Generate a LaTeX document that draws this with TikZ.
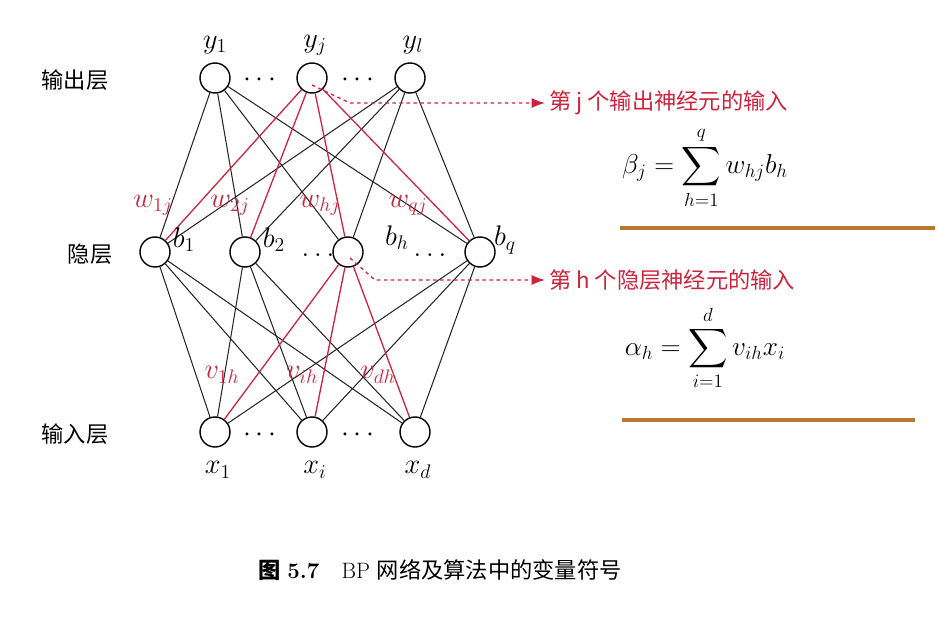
\documentclass[tikz,border=0pt]{standalone}
\usepackage{amsmath}
\usepackage{fontspec}
\newfontfamily\cjk{Noto Sans CJK SC}
\usetikzlibrary{arrows.meta}
\definecolor{rd}{RGB}{205,35,60}
\definecolor{br}{RGB}{185,120,50}
\newcommand{\fsA}{\fontsize{17}{20}\selectfont}
\newcommand{\fsB}{\fontsize{19}{23}\selectfont}
\begin{document}
\begin{tikzpicture}[x=0.03cm,y=-0.03cm,
  neu/.style={circle,draw,line width=1.2pt,minimum size=0.9cm,inner sep=0pt},
  lk/.style={draw=black!85,line width=0.9pt},
  rk/.style={draw=rd,line width=1.1pt},
  lab/.style={font=\fsA,scale=1.4,transform shape},
  wl/.style={text=rd,font=\fsA,inner sep=0.5pt,scale=1.4,transform shape},
  fm/.style={font=\fsA,scale=1.35,transform shape},
  ttl/.style={font=\cjk\fsB}]
\useasboundingbox (0,0) rectangle (937,622);
\node[neu] (y1) at (215,78) {};
\node[neu] (yj) at (312,78) {};
\node[neu] (yl) at (410,78) {};
\node[neu] (b1) at (155,252) {};
\node[neu] (b2) at (245,252) {};
\node[neu] (bh) at (348,252) {};
\node[neu] (bq) at (480,252) {};
\node[neu] (x1) at (215,432) {};
\node[neu] (xi) at (312,432) {};
\node[neu] (xd) at (415,432) {};
\foreach \o in {y1,yl}{\foreach \h in {b1,b2,bh,bq}{\draw[lk] (\o)--(\h);}}
\foreach \i in {x1,xi,xd}{\foreach \h in {b1,b2,bq}{\draw[lk] (\i)--(\h);}}
\foreach \h in {b1,b2,bh,bq}{\draw[rk] (yj)--(\h);}
\foreach \i in {x1,xi,xd}{\draw[rk] (bh)--(\i);}
\node[lab] (ly1) at (215,45) {$y_1$};
\node[lab] (lyj) at (315,45) {$y_j$};
\node[lab] (lyl) at (413,45) {$y_l$};
\node[lab] (lb1) at (184,240) {$b_1$};
\node[lab] (lb2) at (274,240) {$b_2$};
\node[lab] (lbh) at (397,238) {$b_h$};
\node[lab] (lbq) at (505,240) {$b_q$};
\node[lab] (lx1) at (218,470) {$x_1$};
\node[lab] (lxi) at (315,470) {$x_i$};
\node[lab] (lxd) at (418,470) {$x_d$};
\node[lab] (d1) at (262,80) {$\cdots$};
\node[lab] (d2) at (360,80) {$\cdots$};
\node[lab] (d3) at (318,255) {$\ldots$};
\node[lab] (d4) at (430,255) {$\ldots$};
\node[lab] (d5) at (262,435) {$\cdots$};
\node[lab] (d6) at (360,435) {$\cdots$};
\node[wl] (w1) at (153,205) {$w_{1j}$};
\node[wl] (w2) at (230,205) {$w_{2j}$};
\node[wl] (w3) at (320,205) {$w_{hj}$};
\node[wl] (w4) at (408,205) {$w_{qj}$};
\node[wl] (v1) at (222,375) {$v_{1h}$};
\node[wl] (v2) at (302,375) {$v_{ih}$};
\node[wl] (v3) at (378,375) {$v_{dh}$};
\node[ttl] (t1) at (75,80) {输出层};
\node[ttl] (t2) at (90,254) {隐层};
\node[ttl] (t3) at (75,434) {输入层};
\coordinate (s1) at (312,85);
\coordinate (s2) at (350,258);
\node[text=rd,font=\cjk\fsB,anchor=west] (n1) at (545,103) {第 \textit{j} 个输出神经元的输入};
\node[text=rd,font=\cjk\fsB,anchor=west] (n2) at (545,280) {第 \textit{h} 个隐层神经元的输入};
\draw[rd,line width=1.1pt,dashed,-{Latex[length=4mm,width=3mm]}] (s1) -- (350,103) -- (n1.west);
\draw[rd,line width=1.1pt,dashed,-{Latex[length=4mm,width=3mm]}] (s2) -- (375,280) -- (n2.west);
\node[fm] (f1) at (705,168) {$\beta_j=\displaystyle\sum_{h=1}^{q} w_{hj}b_h$};
\node[fm] (f2) at (705,348) {$\alpha_h=\displaystyle\sum_{i=1}^{d} v_{ih}x_i$};
\draw[br,line width=3.5pt] (620,228) -- (935,228);
\draw[br,line width=3.5pt] (622,420) -- (915,420);
\node[font=\fsB] (cap) at (440,570) {{\cjk\bfseries 图} \textbf{5.7}\quad BP {\cjk 网络及算法中的变量符号}};
\end{tikzpicture}
\end{document}
